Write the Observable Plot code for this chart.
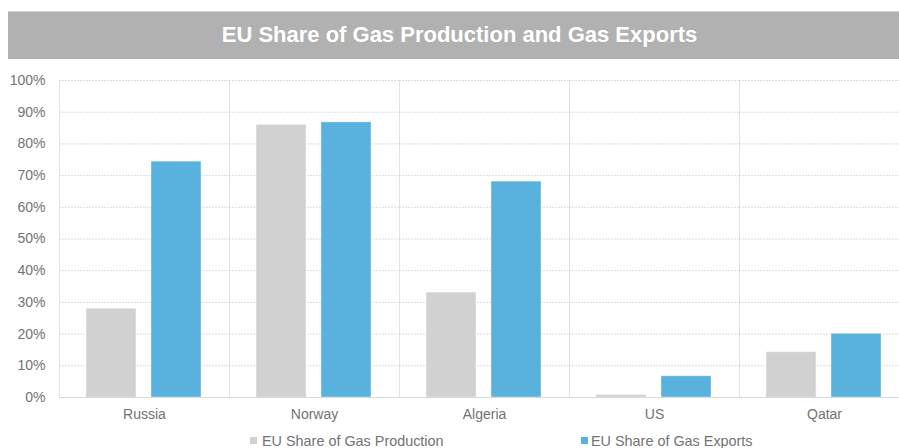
<!DOCTYPE html>
<html>
<head>
<meta charset="utf-8">
<script src="https://cdn.jsdelivr.net/npm/d3@7"></script>
<script src="https://cdn.jsdelivr.net/npm/@observablehq/plot@0.6"></script>
<style>
  html, body { margin: 0; padding: 0; background: #fff; overflow: hidden; width: 899px; height: 448px; }
  body { position: relative; font-family: "Liberation Sans", Arial, sans-serif; }
  #title { position: absolute; left: 8px; top: 11px; width: 891px; height: 48px; background: #b0b1b0;
    border-top: 1px solid #d4d4d4; box-sizing: border-box; color: #fff; font-weight: bold; font-size: 22px;
    line-height: 46px; text-align: center; padding-left: 12px; }
  #chart { position: absolute; left: 0; top: 59px; }
  .leg { position: absolute; top: 433px; font-size: 14.4px; line-height: 16px; color: #737373; white-space: nowrap; }
  .sw { position: absolute; width: 7px; height: 7px; }
</style>
</head>
<body>
<div id="title">EU Share of Gas Production and Gas Exports</div>
<div id="chart"></div>
<script>
const countries = ["Russia", "Norway", "Algeria", "US", "Qatar"];
const seriesNames = ["EU Share of Gas Production", "EU Share of Gas Exports"];
const production = [0.28, 0.86, 0.331, 0.008, 0.143];
const exportsShare = [0.744, 0.868, 0.681, 0.067, 0.201];
const seriesColors = ["#d0d1d0", "#58b2dd"];
const yTicks = [0, 0.1, 0.2, 0.3, 0.4, 0.5, 0.6, 0.7, 0.8, 0.9, 1.0];

const data = [];
countries.forEach((c, i) => {
  data.push({country: c, series: seriesNames[0], value: production[i]});
  data.push({country: c, series: seriesNames[1], value: exportsShare[i]});
});

const chart = Plot.plot({
  width: 910,
  height: 370,
  marginLeft: 59,
  marginRight: 1,
  marginTop: 21,
  marginBottom: 32,
  style: {fontFamily: "'Liberation Sans', Arial, sans-serif", fontSize: "14px", color: "#737373", maxWidth: "none", background: "transparent", overflow: "visible"},
  fx: {domain: countries, padding: 0, label: null, tickSize: 0, tickPadding: 12},
  x: {domain: seriesNames, paddingInner: 0.227, paddingOuter: 0.409, axis: null},
  y: {domain: [0, 1], ticks: yTicks, tickFormat: d3.format(".0%"), label: null, tickSize: 0, tickPadding: 14},
  color: {domain: seriesNames, range: seriesColors},
  marks: [
    Plot.gridY(yTicks.filter(d => d > 0), {stroke: "#dcdcdc", strokeOpacity: 1, strokeDasharray: "2,1"}),
    Plot.frame({anchor: "left", stroke: "#e2e2e2", strokeOpacity: 1, strokeDasharray: "2,1"}),
    Plot.barY(data, {fx: "country", x: "series", y: "value", fill: "series", stroke: "#ffffff", strokeOpacity: 0.4, strokeWidth: 1}),
    Plot.ruleY([0], {stroke: "#d9d9d9"})
  ]
});
document.getElementById("chart").appendChild(chart);

const legendPos = [{sw: 250, tx: 262}, {sw: 581, tx: 591}];
seriesNames.forEach((s, i) => {
  const sw = document.createElement("div");
  sw.className = "sw";
  sw.style.left = legendPos[i].sw + "px";
  sw.style.top = "437px";
  sw.style.background = seriesColors[i];
  document.body.appendChild(sw);
  const t = document.createElement("div");
  t.className = "leg";
  t.style.left = legendPos[i].tx + "px";
  t.textContent = s;
  document.body.appendChild(t);
});
</script>
</body>
</html>
